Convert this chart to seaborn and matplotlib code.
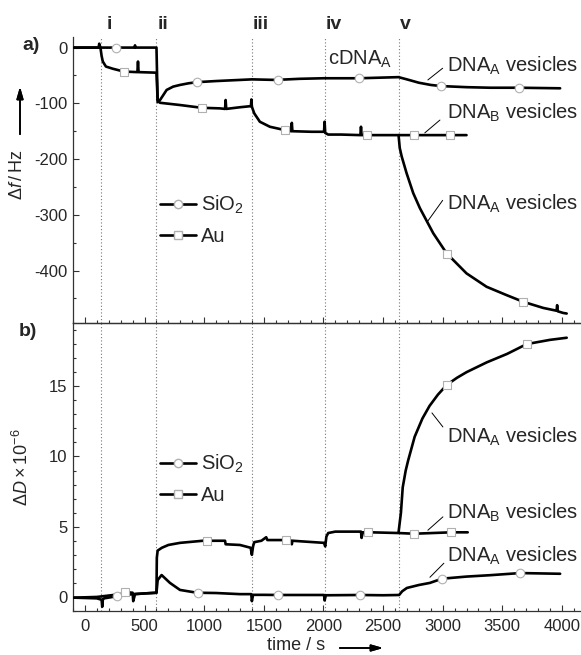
import numpy as np
import matplotlib; matplotlib.use('Agg')
import matplotlib.pyplot as plt
import seaborn as sns
from matplotlib.lines import Line2D
from matplotlib.ticker import MultipleLocator

sns.set_style('ticks')
plt.rcParams['font.family'] = ['Liberation Sans', 'DejaVu Sans']
plt.rcParams['mathtext.fontset'] = 'custom'
plt.rcParams['mathtext.rm'] = 'Liberation Sans'
plt.rcParams['mathtext.it'] = 'Liberation Sans:italic'
plt.rcParams['mathtext.bf'] = 'Liberation Sans:bold'
plt.rcParams['axes.unicode_minus'] = False

# ─── injection events ───
events = [135, 600, 1400, 2010, 2630]
event_labels = ['i', 'ii', 'iii', 'iv', 'v']

# ─── a) frequency shift (Hz) ───
f_sio2_t = [-90, 115, 120, 125, 415, 420, 425, 600, 610, 630, 685, 740, 797, 870, 940, 1100, 1300,
            1400, 1600, 1800, 2000, 2300, 2630, 2700, 2800, 2900, 2985, 3200, 3400, 3640, 3985]
f_sio2 = [0, 0, 7, 0, 0, 4, 0, 0, -98, -94, -76, -70, -67, -64, -62, -60, -58,
          -57, -58, -56, -55, -55, -53, -57, -63, -67, -69, -71, -72, -72, -73]

f_au_t = [-90, 130, 140, 150, 176, 235, 327, 440, 445, 450, 600, 610, 630, 797, 980, 1130, 1175, 1180,
          1185, 1300, 1392, 1396, 1400, 1420, 1467, 1551, 1677, 1730, 1735, 1740, 1900, 2005, 2010,
          2015, 2040, 2150, 2310, 2315, 2320, 2400, 2630, 2800, 3060, 3200]
f_au = [0, 0, -15, -25, -34, -38, -43, -44, -25, -44, -45, -95, -99, -103, -108, -109, -110, -94,
        -110, -107, -105, -93, -106, -118, -133, -142, -148, -150, -135, -150, -151, -151, -133,
        -153, -156, -156, -157, -142, -157, -157, -157, -157, -157, -157]

f_au_a_t = [2630, 2640, 2656, 2697, 2753, 2809, 2921, 3033, 3200, 3368, 3536, 3676, 3844,
            3955, 3960, 3965, 4011, 4040]
f_au_a = [-157, -180, -195, -225, -261, -288, -333, -369, -405, -429, -444, -456, -467,
          -472, -462, -473, -476, -477]

# ─── b) dissipation shift (1e-6) ───
d_sio2_t = [-90, 100, 140, 145, 150, 160, 268, 400, 500, 600, 610, 643, 713, 797, 939, 1100,
            1300, 1395, 1400, 1410, 1500, 1620, 1800, 2005, 2010, 2020, 2306, 2500, 2635,
            2660, 2700, 2800, 2893, 2995, 3200, 3400, 3650, 3985]
d_sio2 = [-0.05, -0.1, -0.2, -0.7, -0.2, -0.1, 0.05, 0.2, 0.25, 0.3, 1.2, 1.56, 1.0, 0.5, 0.3, 0.28,
          0.2, 0.2, -0.3, 0.15, 0.15, 0.14, 0.14, 0.14, -0.25, 0.12, 0.14, 0.12, 0.14,
          0.4, 0.64, 0.85, 1.0, 1.3, 1.45, 1.55, 1.7, 1.65]

d_au_t = [-90, 100, 300, 335, 400, 405, 420, 500, 600, 603, 610, 645, 700, 797, 990, 1175,
          1180, 1300, 1390, 1400, 1410, 1420, 1480, 1520, 1530, 1600, 1685, 1730, 1735, 1740,
          2005, 2015, 2025, 2040, 2100, 2315, 2320, 2330, 2400, 2630, 2760, 3070, 3210]
d_au = [-0.05, 0.0, 0.2, 0.35, 0.3, -0.3, 0.2, 0.25, 0.3, 2.8, 3.3, 3.5, 3.7, 3.85, 4.0, 4.0,
        3.75, 3.7, 3.5, 3.0, 3.6, 3.9, 4.0, 4.25, 4.05, 4.05, 4.05, 4.0, 3.75, 4.0,
        3.85, 3.6, 4.3, 4.55, 4.65, 4.65, 4.2, 4.6, 4.6, 4.55, 4.5, 4.6, 4.6]

d_au_a_t = [2630, 2650, 2665, 2690, 2710, 2765, 2830, 2890, 2960, 3035, 3120, 3200, 3370,
            3540, 3705, 3900, 4040]
d_au_a = [4.6, 6.0, 7.8, 9.0, 9.7, 11.4, 12.7, 13.6, 14.4, 15.1, 15.6, 16.0, 16.7,
          17.3, 18.0, 18.3, 18.45]

# marker times along each trace
mk_f_sio2 = [260, 940, 1615, 2300, 2985, 3640]
mk_f_au = [327, 980, 1677, 2365, 2760, 3060]
mk_f_au_a = [3035, 3675]
mk_d_sio2 = [268, 950, 1620, 2306, 2995, 3650]
mk_d_au = [335, 1020, 1685, 2370, 2760, 3070]
mk_d_au_a = [3035, 3705]


def trace(ax, t, y):
    sns.lineplot(x=np.array(t), y=np.array(y), ax=ax, color='black', lw=1.9,
                 estimator=None, sort=False, legend=False, zorder=3)


def marks(ax, t_line, y_line, t_mark, marker):
    ym = np.interp(t_mark, t_line, y_line)
    sns.scatterplot(x=np.array(t_mark), y=ym, ax=ax, marker=marker, s=38, color='white',
                    edgecolor='#b0b0b0', linewidth=0.8, zorder=5, legend=False)


W, H = 581, 655
fig = plt.figure(figsize=(W / 100, H / 100), dpi=100)
ax1 = fig.add_axes([73 / W, 1 - 323 / H, 508 / W, 286 / H])
ax2 = fig.add_axes([73 / W, 1 - 611 / H, 508 / W, 288 / H], sharex=ax1)
ax2.set_facecolor('none')

for ax in (ax1, ax2):
    for t in events:
        ax.axvline(t, color='#777777', ls=(0, (1, 2)), lw=0.8, zorder=0)
    ax.spines['right'].set_visible(False)
    for s in ('left', 'bottom', 'top'):
        ax.spines[s].set_linewidth(0.9)
        ax.spines[s].set_color('#333333')
    ax.tick_params(which='both', direction='in', top=False, right=False, width=0.8,
                   labelsize=12, color='#333333')
    ax.tick_params(which='major', length=4.5, pad=4)
    ax.tick_params(which='minor', length=2.5)
    ax.xaxis.set_major_locator(MultipleLocator(500))
    ax.xaxis.set_minor_locator(MultipleLocator(100))
    ax.set_xlabel('')
    ax.set_ylabel('')
ax1.spines['top'].set_visible(False)
ax2.spines['top'].set_visible(True)

ax1.set_xlim(-100, 4160)
ax1.set_ylim(-494, 19)
ax1.yaxis.set_major_locator(MultipleLocator(100))
ax1.yaxis.set_minor_locator(MultipleLocator(50))
ax1.tick_params(labelbottom=False)
ax2.set_ylim(-1.0, 19.5)
ax2.yaxis.set_major_locator(MultipleLocator(5))
ax2.yaxis.set_minor_locator(MultipleLocator(1))
ax2.tick_params(axis='x', pad=6)

# ─── a) ───
trace(ax1, f_sio2_t, f_sio2)
trace(ax1, f_au_t, f_au)
trace(ax1, f_au_a_t, f_au_a)
marks(ax1, f_sio2_t, f_sio2, mk_f_sio2, 'o')
marks(ax1, f_au_t, f_au, mk_f_au, 's')
marks(ax1, f_au_a_t, f_au_a, mk_f_au_a, 's')

# ─── b) ───
trace(ax2, d_sio2_t, d_sio2)
trace(ax2, d_au_t, d_au)
trace(ax2, d_au_a_t, d_au_a)
marks(ax2, d_sio2_t, d_sio2, mk_d_sio2, 'o')
marks(ax2, d_au_t, d_au, mk_d_au, 's')
marks(ax2, d_au_a_t, d_au_a, mk_d_au_a, 's')

# event labels above panel a
for t, lab in zip(events, event_labels):
    ax1.text(t + (45 if lab == 'i' else 8), 1.042, lab, transform=ax1.get_xaxis_transform(),
             ha='left', va='center', fontsize=14, fontweight='bold')

# curve annotations
lbl = dict(fontsize=14.5, ha='left', va='baseline')
ax1.text(2040, -31, r'cDNA$_\mathrm{A}$', **lbl)
ax1.text(3036, -43, r'DNA$_\mathrm{A}$ vesicles', **lbl)
ax1.text(3036, -127, r'DNA$_\mathrm{B}$ vesicles', **lbl)
ax1.text(3036, -291, r'DNA$_\mathrm{A}$ vesicles', **lbl)
ax1.plot([2876, 3000], [-58, -37], color='black', lw=0.7)
ax1.plot([2850, 2977], [-153, -130], color='black', lw=0.7)
ax1.plot([2876, 3000], [-311, -274], color='black', lw=0.7)

ax2.text(3036, 11.0, r'DNA$_\mathrm{A}$ vesicles', **lbl)
ax2.text(3036, 5.6, r'DNA$_\mathrm{B}$ vesicles', **lbl)
ax2.text(3036, 2.5, r'DNA$_\mathrm{A}$ vesicles', **lbl)
ax2.plot([2910, 3002], [13.1, 12.1], color='black', lw=0.7)
ax2.plot([2876, 3002], [4.75, 5.7], color='black', lw=0.7)
ax2.plot([2893, 3010], [1.4, 2.4], color='black', lw=0.7)

# legends
h_sio2 = Line2D([], [], color='black', lw=1.9, marker='o', ms=6, mfc='white', mec='#b0b0b0')
h_au = Line2D([], [], color='black', lw=1.9, marker='s', ms=6, mfc='white', mec='#b0b0b0')
for ax, yy in ((ax1, 0.452), (ax2, 0.55)):
    ax.legend([h_sio2, h_au], ['SiO$_2$', 'Au'], frameon=False, loc='upper left',
              bbox_to_anchor=(0.171, yy), borderpad=0, borderaxespad=0, handlelength=1.8,
              handletextpad=0.25, labelspacing=0.55, fontsize=14.5)

# panel letters and axis labels
fig.text(31 / W, 1 - 45 / H, 'a)', fontsize=14, fontweight='bold', ha='center', va='center')
fig.text(28 / W, 1 - 331 / H, 'b)', fontsize=14, fontweight='bold', ha='center', va='center')
fig.text(18 / W, 1 - 175 / H, r'$\Delta\mathit{f}\,/\,$Hz', rotation=90, fontsize=13,
         ha='center', va='center')
fig.text(22 / W, 1 - 467 / H, r'$\Delta\mathit{D}\times10^{-6}$', rotation=90, fontsize=13,
         ha='center', va='center')
fig.text(296 / W, 1 - 645 / H, 'time / s', fontsize=13, ha='center', va='center')
arrow = dict(arrowstyle='-|>,head_length=0.7,head_width=0.2', color='black', lw=1.2)
fig.add_artist(plt.annotate('', xy=(20 / W, 1 - 84 / H), xytext=(20 / W, 1 - 137 / H),
                            xycoords='figure fraction', arrowprops=arrow))
fig.add_artist(plt.annotate('', xy=(386 / W, 1 - 648 / H), xytext=(337 / W, 1 - 648 / H),
                            xycoords='figure fraction', arrowprops=arrow))

plt.savefig('out.png', dpi=100)
plt.close()
